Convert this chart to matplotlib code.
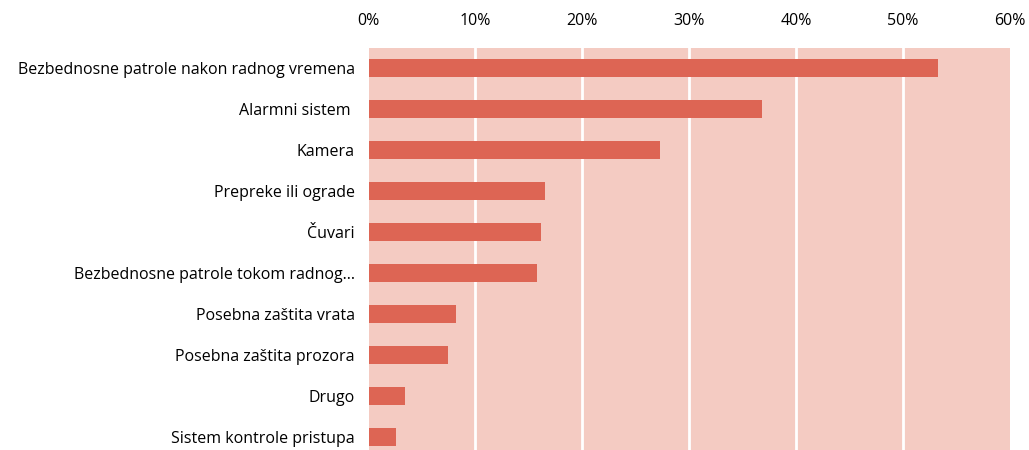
import matplotlib
matplotlib.use('Agg')
import matplotlib.pyplot as plt
from matplotlib.ticker import PercentFormatter

BAR = '#dd6554'
BG = '#f4cbc2'

categories = [
    'Bezbednosne patrole nakon radnog vremena',
    'Alarmni sistem ',
    'Kamera',
    'Prepreke ili ograde',
    'Čuvari',
    'Bezbednosne patrole tokom radnog…',
    'Posebna zaštita vrata',
    'Posebna zaštita prozora',
    'Drugo',
    'Sistem kontrole pristupa',
]
shares = [53.3, 36.8, 27.3, 16.5, 16.1, 15.8, 8.2, 7.4, 3.4, 2.6]
ticks = [0, 10, 20, 30, 40, 50, 60]

plt.rcParams['font.family'] = ['Open Sans', 'DejaVu Sans']

fig = plt.figure(figsize=(10.29, 4.5), dpi=100)
ax = fig.add_axes([0.3582, 0.0, 0.6233, 0.8944])
ax.set_facecolor(BG)

pos = list(range(len(categories)))
ax.barh(pos, shares, height=0.45, color=BAR, zorder=3)

# inner gridlines only, the outer edges have none
for t in ticks[1:-1]:
    ax.axvline(t, color='white', linewidth=2, zorder=1)

ax.set_xlim(0, 60)
ax.set_ylim(9.32, -0.5)
ax.set_xticks(ticks)
ax.xaxis.set_major_formatter(PercentFormatter(decimals=0))
ax.xaxis.tick_top()
ax.set_yticks(pos)
ax.set_yticklabels(categories)
ax.tick_params(axis='x', length=0, pad=13, labelsize=11.5, colors='black')
ax.tick_params(axis='y', length=0, pad=10, labelsize=11.5, colors='black')
for s in ax.spines.values():
    s.set_visible(False)

fig.savefig('out.png', dpi=100)
